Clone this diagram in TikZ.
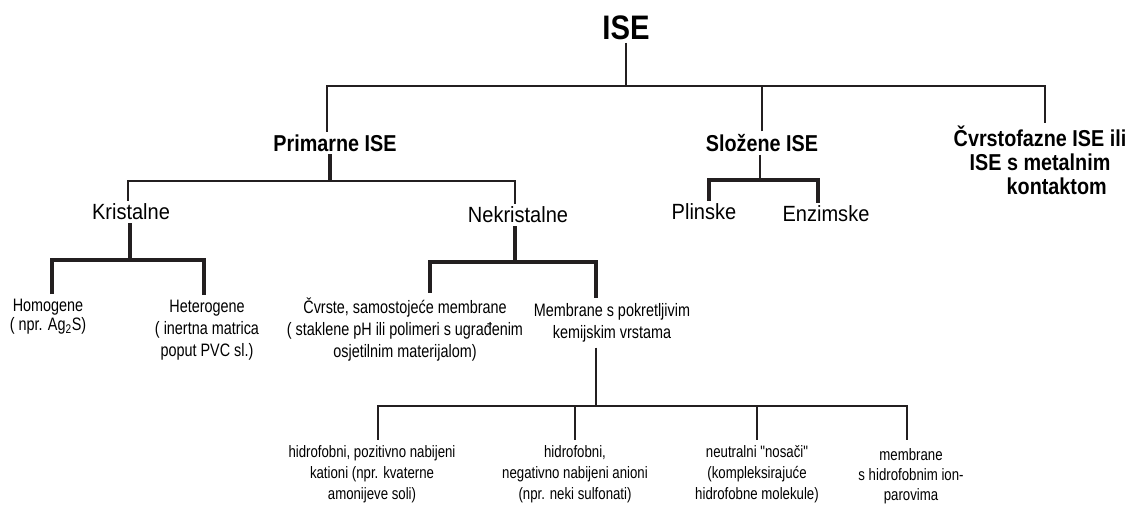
\documentclass[tikz,border=0pt]{standalone}
\usepackage{fontspec}
\setmainfont{Liberation Sans}
\newfontfamily\nfont[FakeStretch=0.8]{Liberation Sans}
\newfontfamily\hfont[FakeStretch=0.86]{Liberation Sans}
\newfontfamily\mfont[FakeStretch=0.91]{Liberation Sans}
\definecolor{lc}{HTML}{231F20}
\begin{document}
\begin{tikzpicture}[x=0.75pt, y=-0.75pt,
  ln/.style={line width=1.5pt, draw=lc},
  thk/.style={line width=2.5pt, draw=lc},
  toptext/.style={font=\hfont\bfseries\fontsize{25.5}{28}\selectfont, inner sep=2pt},
  head/.style={font=\hfont\bfseries\fontsize{17.25}{18}\selectfont, align=center, inner sep=2pt},
  mid/.style={font=\mfont\fontsize{16.5}{18}\selectfont, inner sep=2pt},
  lab/.style={font=\nfont\fontsize{13.5}{16.5}\selectfont, align=center, inner sep=2pt, outer sep=2pt},
  bot/.style={font=\nfont\fontsize{12.4}{15.75}\selectfont, align=center, inner sep=2pt, outer sep=2pt}]
\clip (0,0) rectangle (1134,505);
\fill[white] (0,0) rectangle (1134,505);
% nodes
\node[toptext] (ise) at (626,28) {ISE};
\node[head] (prim) at (335,143) {Primarne ISE};
\node[head] (slo) at (762,143) {Složene ISE};
\node[head] (cvr) at (1040,160) {Čvrstofazne ISE ili\\ISE s metalnim\\\hspace*{25pt}kontaktom};
\node[mid] (kri) at (131,212) {Kristalne};
\node[mid] (nek) at (518,215) {Nekristalne};
\node[mid] (pli) at (704,212) {Plinske};
\node[mid] (enz) at (826,214) {Enzimske};
\node[lab, font=\nfont\fontsize{13.5}{14.25}\selectfont] (hom) at (48,317) {Homogene\\( npr. Ag\textsubscript{2}S)};
\node[lab] (het) at (207,330) {Heterogene\\( inertna matrica\\poput PVC sl.)};
\node[lab] (cvrste) at (405,330) {Čvrste, samostojeće membrane\\( staklene pH ili polimeri s ugrađenim\\osjetilnim materijalom)};
\node[lab] (pok) at (612,323) {Membrane s pokretljivim\\kemijskim vrstama};
\node[bot] (b1) at (372,474) {hidrofobni, pozitivno nabijeni\\kationi (npr. kvaterne\\amonijeve soli)};
\node[bot] (b2) at (575,474) {hidrofobni,\\negativno nabijeni anioni\\(npr. neki sulfonati)};
\node[bot] (b3) at (757,474) {neutralni "nosači"\\(kompleksirajuće\\hidrofobne molekule)};
\node[bot, font=\nfont\fontsize{12.4}{15}\selectfont] (b4) at (911,476) {membrane\\s hidrofobnim ion-\\parovima};
% junctions
\coordinate (tl) at (327,86);
\coordinate (tr) at (1045,86);
\coordinate (pl) at (128,181);
\coordinate (pm) at (330,181);
\coordinate (pr) at (515,181);
\coordinate (sl) at (709,180);
\coordinate (sm) at (760,180);
\coordinate (sr) at (818,180);
\coordinate (kl) at (52,260);
\coordinate (km) at (130,260);
\coordinate (kr) at (204,260);
\coordinate (nl) at (430,262);
\coordinate (nm) at (515,262);
\coordinate (nr) at (596,262);
\coordinate (jb) at (596,406);
\coordinate (bl) at (378,406);
\coordinate (br) at (907,406);
\coordinate (b4top) at (907,440);
% connectors
\draw[ln] (ise.south) -- (ise.south |- tl);
\draw[ln] (prim.north -| tl) -- (tl) -- (tr) -- (cvr.north -| tr);
\draw[ln] (slo.north) -- (slo.north |- tl);
\draw[thk] (prim.south -| pm) -- (pm);
\draw[ln] (kri.north -| pl) -- (pl) -- (pr) -- (nek.north -| pr);
\draw[ln] (slo.south -| sm) -- (sm);
\draw[thk] (pli.north -| sl) -- (sl) -- (sr) -- (enz.north -| sr);
\draw[thk] (kri.south -| km) -- (km);
\draw[thk] (hom.north -| kl) -- (kl) -- (kr) -- (het.north -| kr);
\draw[thk] (nek.south -| nm) -- (nm);
\draw[thk] (cvrste.north -| nl) -- (nl) -- (nr) -- (pok.north -| nr);
\draw[ln] (pok.south -| jb) -- (jb);
\draw[ln] (b1.north -| bl) -- (bl) -- (br) -- (b4top);
\draw[ln] (b2.north) -- (b2.north |- bl);
\draw[ln] (b3.north) -- (b3.north |- bl);
\end{tikzpicture}
\end{document}
